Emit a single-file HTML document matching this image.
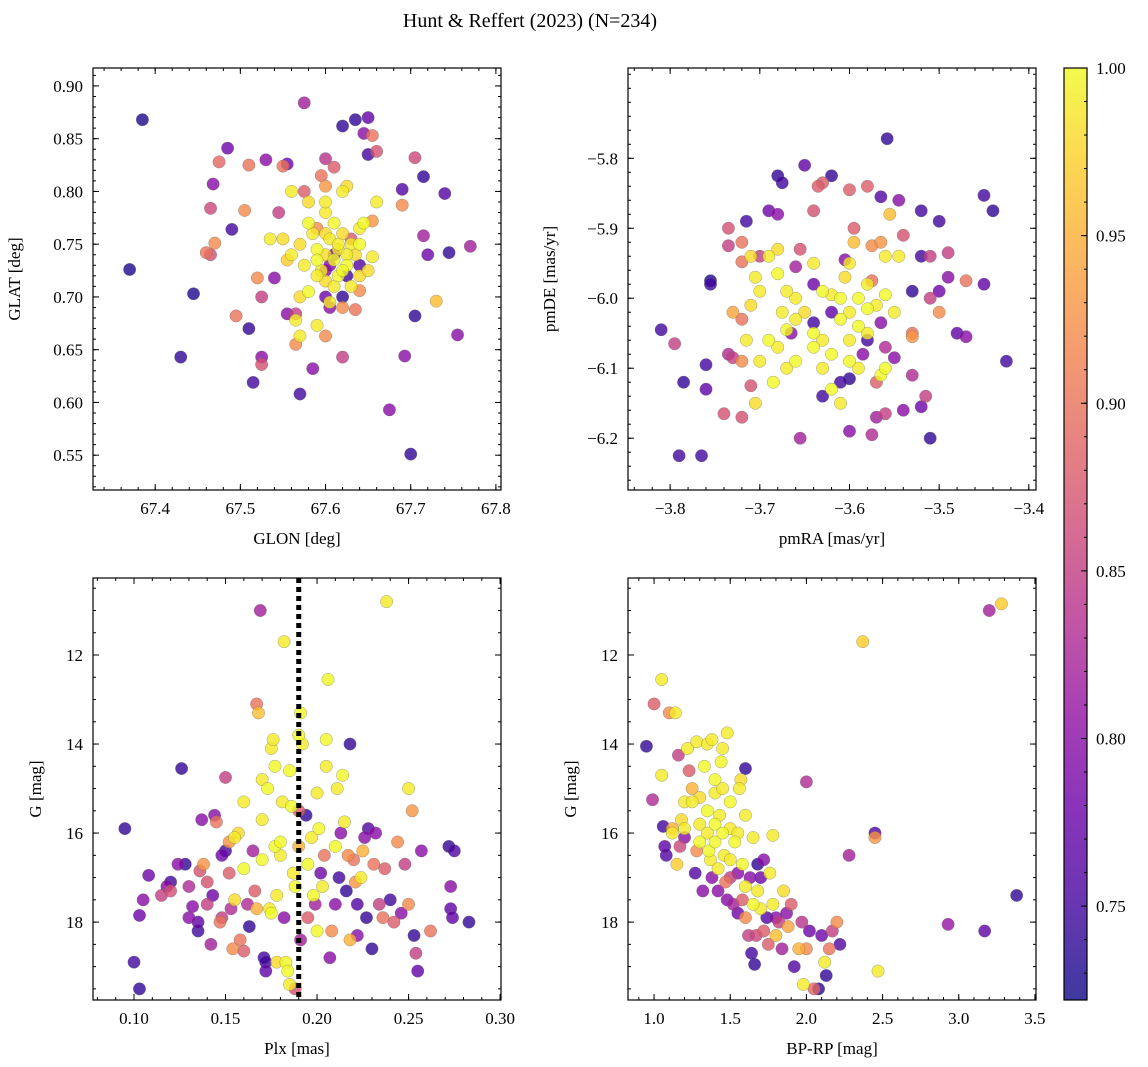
<!DOCTYPE html>
<html><head><meta charset="utf-8">
<style>
html,body{margin:0;padding:0;background:#fff;}
svg{display:block;font-family:"Liberation Serif","DejaVu Serif",serif;}
</style></head>
<body>
<svg id="fig" width="1148" height="1067" xmlns="http://www.w3.org/2000/svg">
<text x="530" y="27" font-size="20" text-anchor="middle">Hunt &amp; Reffert (2023) (N=234)</text>
</svg>
<script>
// ---------- data ----------
const glon=[67.385,67.37,67.445,67.43,67.485,67.468,67.49,67.51,67.515,67.525,67.53,67.555,67.575,67.57,67.585,67.6,67.62,67.635,67.65,67.645,67.65,67.69,67.715,67.74,67.705,67.675,67.7,67.72,67.745,67.755,67.77,67.715,67.705,67.66,67.655,67.693,67.69,67.73,67.465,67.475,67.47,67.46,67.465,67.495,67.505,67.51,67.525,67.52,67.525,67.55,67.54,67.545,67.555,67.565,67.565,67.57,67.59,67.6,67.62,67.605,67.635,67.64,67.6,67.6,67.59,67.62,67.595,67.61,67.63,67.655,67.575,67.61,67.625,67.6,67.64,67.62,67.605,67.535,67.55,67.56,67.555,67.56,67.58,67.58,67.585,67.57,67.575,67.59,67.595,67.6,67.605,67.61,67.615,67.62,67.625,67.63,67.635,67.64,67.645,67.62,67.625,67.6,67.61,67.59,67.6,67.615,67.63,67.64,67.655,67.605,67.58,67.57,67.565,67.62,67.615,67.6,67.59,67.61,67.625,67.64,67.65,67.66,67.6];
const glat=[0.868,0.726,0.703,0.643,0.841,0.807,0.764,0.670,0.619,0.643,0.830,0.826,0.884,0.608,0.632,0.831,0.862,0.868,0.870,0.855,0.835,0.802,0.814,0.798,0.682,0.593,0.551,0.740,0.742,0.664,0.748,0.758,0.832,0.838,0.853,0.644,0.787,0.696,0.784,0.828,0.751,0.742,0.740,0.682,0.782,0.825,0.700,0.718,0.636,0.824,0.718,0.780,0.684,0.684,0.655,0.663,0.673,0.663,0.643,0.690,0.688,0.706,0.700,0.805,0.765,0.690,0.815,0.823,0.755,0.772,0.800,0.740,0.720,0.725,0.730,0.700,0.730,0.755,0.755,0.740,0.735,0.800,0.790,0.770,0.760,0.750,0.730,0.745,0.725,0.740,0.755,0.735,0.745,0.760,0.730,0.750,0.740,0.765,0.770,0.800,0.805,0.780,0.770,0.720,0.715,0.720,0.710,0.720,0.738,0.695,0.705,0.700,0.678,0.725,0.750,0.760,0.735,0.710,0.740,0.750,0.725,0.790,0.790];
const prob1=[0.73,0.73,0.73,0.74,0.78,0.80,0.75,0.74,0.75,0.80,0.80,0.78,0.82,0.75,0.80,0.84,0.74,0.74,0.77,0.80,0.75,0.76,0.74,0.76,0.74,0.80,0.74,0.78,0.74,0.80,0.82,0.82,0.86,0.87,0.90,0.80,0.92,0.96,0.86,0.89,0.92,0.90,0.87,0.90,0.92,0.90,0.85,0.92,0.87,0.90,0.80,0.85,0.80,0.85,0.92,0.99,0.99,0.92,0.85,0.80,0.90,0.92,0.78,0.93,0.92,0.92,0.90,0.88,0.88,0.93,0.88,0.78,0.75,0.80,0.76,0.74,0.80,0.99,0.98,0.99,0.97,0.99,0.98,1.0,0.99,0.98,0.99,1.0,0.99,0.98,0.99,1.0,0.99,0.98,1.0,0.99,0.98,0.99,1.0,0.99,0.98,0.99,1.0,0.99,0.98,1.0,0.99,0.98,0.99,0.99,1.0,0.98,0.99,1.0,0.99,0.98,1.0,0.99,0.99,1.0,0.98,0.99,0.99];

const pmra=[-3.558,-3.65,-3.68,-3.675,-3.62,-3.565,-3.545,-3.52,-3.45,-3.44,-3.5,-3.715,-3.69,-3.68,-3.755,-3.755,-3.81,-3.795,-3.76,-3.785,-3.76,-3.79,-3.765,-3.74,-3.72,-3.655,-3.6,-3.575,-3.57,-3.56,-3.54,-3.51,-3.52,-3.515,-3.53,-3.55,-3.47,-3.48,-3.425,-3.45,-3.49,-3.5,-3.53,-3.52,-3.49,-3.51,-3.54,-3.47,-3.51,-3.53,-3.53,-3.5,-3.58,-3.6,-3.63,-3.635,-3.64,-3.7,-3.735,-3.72,-3.735,-3.72,-3.72,-3.73,-3.72,-3.71,-3.73,-3.735,-3.665,-3.64,-3.62,-3.61,-3.6,-3.63,-3.58,-3.56,-3.565,-3.57,-3.585,-3.605,-3.64,-3.66,-3.655,-3.595,-3.595,-3.575,-3.565,-3.555,-3.56,-3.575,-3.68,-3.69,-3.71,-3.705,-3.7,-3.71,-3.715,-3.69,-3.68,-3.7,-3.685,-3.705,-3.67,-3.66,-3.66,-3.65,-3.64,-3.63,-3.62,-3.63,-3.62,-3.61,-3.6,-3.59,-3.565,-3.56,-3.58,-3.59,-3.6,-3.61,-3.62,-3.63,-3.6,-3.605,-3.64,-3.68,-3.67,-3.66,-3.67,-3.59,-3.58,-3.55,-3.545,-3.58,-3.57,-3.56,-3.6,-3.64,-3.675,-3.61];
const pmde=[-5.772,-5.81,-5.825,-5.835,-5.825,-5.855,-5.86,-5.875,-5.853,-5.875,-5.89,-5.89,-5.875,-5.88,-5.98,-5.975,-6.045,-6.065,-6.095,-6.12,-6.13,-6.225,-6.225,-6.165,-6.17,-6.2,-6.19,-6.195,-6.17,-6.165,-6.16,-6.2,-6.155,-6.14,-6.11,-6.085,-6.055,-6.05,-6.09,-5.98,-5.97,-5.99,-5.99,-5.94,-5.935,-5.94,-5.91,-5.975,-6.0,-6.055,-6.05,-6.02,-5.84,-5.845,-5.835,-5.84,-5.875,-5.94,-5.925,-5.92,-5.9,-5.948,-6.03,-6.02,-6.09,-6.125,-6.085,-6.08,-6.05,-6.035,-6.02,-6.12,-6.115,-6.14,-6.06,-6.07,-6.035,-6.12,-6.08,-5.945,-5.98,-5.955,-5.93,-5.9,-5.92,-5.925,-5.92,-5.88,-5.94,-5.975,-5.93,-5.94,-5.94,-5.97,-5.99,-6.01,-6.06,-6.06,-6.07,-6.09,-6.12,-6.15,-6.1,-6.09,-6.0,-6.02,-6.05,-6.06,-6.08,-6.1,-6.13,-6.15,-6.09,-6.1,-6.11,-6.1,-6.05,-6.04,-6.02,-6.0,-5.995,-5.99,-5.95,-5.97,-5.95,-5.965,-5.99,-6.03,-6.045,-6.0,-6.015,-6.02,-5.94,-5.98,-6.01,-5.995,-6.06,-6.07,-6.02,-6.03];
const prob2=[0.74,0.77,0.74,0.75,0.74,0.76,0.80,0.75,0.75,0.74,0.75,0.75,0.78,0.80,0.75,0.73,0.75,0.85,0.75,0.74,0.77,0.75,0.75,0.87,0.87,0.82,0.80,0.83,0.82,0.85,0.80,0.74,0.78,0.85,0.83,0.80,0.80,0.77,0.75,0.77,0.80,0.78,0.74,0.75,0.85,0.85,0.87,0.90,0.85,0.93,0.90,0.92,0.88,0.88,0.88,0.88,0.87,0.85,0.85,0.90,0.87,0.90,0.90,0.94,0.92,0.87,0.85,0.83,0.80,0.75,0.77,0.75,0.74,0.75,0.75,0.83,0.80,0.88,0.80,0.80,0.78,0.82,0.87,0.88,0.96,0.92,0.93,0.96,0.99,0.90,0.98,0.99,0.98,0.99,0.99,0.98,0.99,1.0,0.99,0.99,1.0,0.98,0.99,1.0,0.99,0.98,1.0,0.99,1.0,0.99,1.0,0.99,1.0,0.99,1.0,1.0,0.99,1.0,0.99,1.0,0.99,1.0,0.99,0.98,0.99,1.0,0.99,0.99,1.0,1.0,1.0,0.99,0.99,0.99,0.99,1.0,0.99,1.0,0.99,1.0];

const plx=[0.095,0.1,0.103,0.103,0.105,0.108,0.115,0.118,0.12,0.12,0.124,0.126,0.128,0.13,0.13,0.132,0.135,0.135,0.136,0.137,0.138,0.14,0.14,0.142,0.143,0.144,0.145,0.147,0.148,0.148,0.15,0.15,0.152,0.152,0.153,0.154,0.155,0.155,0.157,0.158,0.16,0.16,0.16,0.162,0.163,0.165,0.166,0.167,0.167,0.168,0.169,0.17,0.17,0.17,0.171,0.172,0.172,0.173,0.174,0.175,0.175,0.176,0.177,0.177,0.178,0.178,0.18,0.18,0.181,0.182,0.182,0.183,0.184,0.185,0.185,0.186,0.187,0.188,0.188,0.19,0.19,0.19,0.191,0.191,0.192,0.194,0.195,0.195,0.197,0.198,0.199,0.2,0.2,0.201,0.202,0.203,0.204,0.205,0.205,0.206,0.207,0.208,0.21,0.21,0.211,0.212,0.213,0.214,0.215,0.216,0.217,0.218,0.218,0.22,0.221,0.222,0.222,0.224,0.225,0.226,0.227,0.228,0.23,0.231,0.232,0.234,0.236,0.237,0.238,0.24,0.242,0.244,0.246,0.248,0.25,0.25,0.252,0.253,0.254,0.255,0.257,0.262,0.272,0.273,0.274,0.275,0.273,0.283];
const gmag3=[15.9,18.9,19.5,17.85,17.5,16.95,17.4,17.2,17.3,17.1,16.7,14.55,16.7,17.2,17.9,17.65,18.0,18.2,16.85,15.7,16.7,17.1,17.6,18.5,17.4,15.6,15.75,18.0,17.9,16.5,14.75,16.4,16.2,16.9,17.7,18.6,17.5,16.1,16.0,18.4,18.65,15.3,16.8,17.6,18.1,16.4,17.3,17.7,13.1,13.3,11.0,14.8,15.7,16.6,18.8,18.9,19.1,15.0,17.7,17.8,14.1,13.9,14.5,16.3,17.4,18.9,16.5,16.2,15.3,11.7,17.9,18.9,19.1,19.4,14.6,15.4,16.9,17.2,19.5,13.8,15.5,16.3,18.4,13.3,14.0,15.6,17.9,16.7,16.1,17.4,17.6,18.2,15.1,15.9,16.9,17.2,16.5,14.5,13.9,12.55,18.8,18.2,17.6,16.3,15.0,17.0,16.0,14.7,15.75,17.3,16.5,14.0,18.4,16.6,17.1,18.3,17.6,17.0,16.4,16.1,17.9,15.9,18.6,16.7,16.0,17.6,17.9,16.8,10.8,17.5,18.0,16.2,17.8,16.7,15.0,17.6,15.5,18.3,18.7,19.1,16.4,18.2,16.3,17.7,17.9,16.4,17.2,18.0];
const prob3=[0.74,0.75,0.74,0.78,0.80,0.78,0.85,0.80,0.87,0.75,0.80,0.74,0.74,0.83,0.80,0.80,0.77,0.75,0.87,0.80,0.93,0.87,0.85,0.82,0.78,0.80,0.90,0.90,0.85,0.78,0.85,0.75,0.93,0.88,0.83,0.92,0.98,0.99,0.98,0.90,0.88,0.99,1.0,0.83,0.74,0.82,0.88,0.95,0.90,0.96,0.82,0.99,0.99,1.0,0.75,0.75,0.77,1.0,0.99,1.0,0.99,0.99,1.0,1.0,0.99,0.98,0.99,1.0,0.99,0.99,0.80,1.0,1.0,0.99,1.0,1.0,0.99,1.0,0.87,1.0,0.88,0.95,0.82,1.0,0.99,0.74,0.88,1.0,0.99,1.0,0.82,1.0,0.99,1.0,0.78,0.99,0.90,0.99,1.0,1.0,0.80,0.92,0.80,1.0,0.99,0.75,0.80,1.0,0.99,0.74,0.92,0.74,0.95,0.90,0.93,0.80,0.76,0.99,0.95,0.80,0.74,0.76,0.74,0.90,0.80,0.85,0.90,0.88,0.99,0.75,0.88,0.92,0.80,0.85,0.99,0.92,0.93,0.74,0.85,0.77,0.80,0.90,0.74,0.77,0.77,0.76,0.80,0.74];
const plxLine=0.19;

const bprp=[0.95,0.99,1.0,1.05,1.05,1.06,1.07,1.08,1.1,1.12,1.14,1.12,1.15,1.16,1.17,1.18,1.2,1.2,1.2,1.22,1.23,1.25,1.25,1.27,1.28,1.28,1.3,1.3,1.3,1.32,1.33,1.35,1.35,1.35,1.36,1.37,1.38,1.38,1.4,1.4,1.4,1.4,1.42,1.42,1.43,1.44,1.45,1.45,1.45,1.46,1.47,1.48,1.48,1.5,1.5,1.5,1.5,1.52,1.53,1.55,1.55,1.55,1.56,1.57,1.58,1.58,1.6,1.6,1.6,1.6,1.62,1.63,1.64,1.65,1.65,1.66,1.67,1.68,1.68,1.7,1.7,1.72,1.72,1.74,1.75,1.76,1.78,1.78,1.8,1.8,1.82,1.84,1.85,1.87,1.88,1.9,1.92,1.95,1.97,1.98,2.0,2.0,2.02,2.05,2.08,2.1,2.12,2.13,2.15,2.17,2.2,2.22,2.28,2.37,2.45,2.45,2.47,2.93,3.17,3.2,3.28,3.38];
const gmag4=[14.05,15.25,13.1,12.55,14.7,15.85,16.3,16.5,13.3,15.9,13.3,16.0,16.7,14.25,16.3,15.7,15.3,15.9,16.1,14.1,14.6,15.0,15.3,16.9,13.95,16.4,15.2,15.8,16.2,17.3,14.5,14.0,15.5,16.0,16.4,16.6,17.0,13.9,14.8,15.1,15.8,16.2,16.8,17.3,15.6,14.4,14.1,15.0,16.0,16.5,17.1,13.75,17.5,15.3,15.9,16.6,17.0,17.6,16.2,16.0,16.9,17.8,15.0,14.8,16.7,17.5,14.55,15.6,17.2,17.9,18.3,17.0,18.7,16.1,17.6,18.95,18.3,16.7,17.3,17.0,17.7,16.6,18.2,17.9,18.5,16.9,16.05,17.6,17.9,18.3,18.0,18.6,17.3,17.8,18.1,17.6,19.0,18.6,18.0,19.4,14.85,18.6,18.2,19.5,19.5,18.3,18.9,19.2,18.6,18.2,18.0,18.5,16.5,11.7,16.0,16.1,19.1,18.05,18.2,11.0,10.85,17.4];
const prob4=[0.74,0.83,0.88,0.99,0.99,0.75,0.77,0.76,0.92,0.95,0.99,0.99,0.97,0.85,0.86,0.98,0.99,0.99,0.80,0.99,0.88,0.95,0.99,0.76,0.99,0.92,0.98,0.99,1.0,0.80,1.0,0.99,1.0,0.99,1.0,0.99,0.80,0.99,1.0,0.99,1.0,1.0,0.99,0.80,0.99,1.0,0.99,0.99,1.0,0.99,0.90,0.99,0.80,1.0,0.99,0.99,0.85,0.82,1.0,0.99,0.80,0.78,0.99,0.98,1.0,0.88,0.74,0.99,0.99,0.92,0.85,0.80,0.75,0.99,1.0,0.74,0.86,0.74,0.99,0.78,0.99,0.80,0.88,0.76,0.88,0.99,0.99,0.99,0.80,0.96,0.85,0.82,0.98,0.80,0.94,0.88,0.76,0.95,0.84,0.99,0.83,0.92,0.78,0.89,0.74,0.78,0.99,0.74,0.90,0.85,0.92,0.76,0.82,0.97,0.76,0.93,0.99,0.81,0.77,0.82,0.97,0.74];

const cbTicks=[0.75,0.80,0.85,0.90,0.95,1.00];
const vmin=0.722, vmax=1.0;

// ---------- helpers ----------
const NS="http://www.w3.org/2000/svg";
const svg=document.getElementById('fig');
function mk(tag,attrs,parent){const e=document.createElementNS(NS,tag);for(const k in attrs)e.setAttribute(k,attrs[k]);(parent||svg).appendChild(e);return e;}
const plasma=[[13,8,135],[65,4,157],[106,0,168],[143,13,164],[177,42,144],[204,71,120],[225,100,98],[242,132,75],[252,166,54],[252,206,37],[240,249,33]];
function cmap(t){t=Math.max(0,Math.min(1,t))*10;const i=Math.min(9,Math.floor(t)),f=t-i;const a=plasma[i],b=plasma[i+1];return 'rgb('+a.map((v,k)=>Math.round(v+(b[k]-v)*f)).join(',')+')';}
function colorOf(p){return cmap((p-vmin)/(vmax-vmin));}
const FS=17;

function panel(name,box,xr,yr,xt,yt,xmin,ymin,xfmt,yfmt,xlabel,ylabel,xs,ys,ps,ylabX){
  const [L,T,R,B]=box;
  const g=mk('g',{});
  
  
  const sx=v=>L+(v-xr[0])/(xr[1]-xr[0])*(R-L);
  const sy=v=>T+(v-yr[0])/(yr[1]-yr[0])*(B-T);
  const clip=mk('clipPath',{id:'c'+name},g);mk('rect',{x:L,y:T,width:R-L,height:B-T},clip);
  const pts=mk('g',{'clip-path':'url(#c'+name+')'},g);
  
  
  const order=ps.map((p,i)=>i).sort((a,b)=>ps[a]-ps[b]);
  for(const i of order){
    const c=mk('circle',{cx:sx(xs[i]),cy:sy(ys[i]),r:6.2,fill:colorOf(ps[i]),'fill-opacity':0.8,stroke:'#666','stroke-opacity':0.6,'stroke-width':0.5},pts);
    
    
  }
  return {g,sx,sy,L,T,R,B,finish(){
    mk('rect',{x:L,y:T,width:R-L,height:B-T,fill:'none',stroke:'#000','stroke-width':1.2},g);
    const lo=Math.min(xr[0],xr[1]),hi=Math.max(xr[0],xr[1]);
    for(let v=Math.ceil(lo/xmin-1e-6)*xmin;v<=hi+1e-9;v+=xmin){const x=sx(v);mk('line',{x1:x,x2:x,y1:B,y2:B-3,stroke:'#000'},g);mk('line',{x1:x,x2:x,y1:T,y2:T+3,stroke:'#000'},g);}
    const ylo=Math.min(yr[0],yr[1]),yhi=Math.max(yr[0],yr[1]);
    for(let v=Math.ceil(ylo/ymin-1e-6)*ymin;v<=yhi+1e-9;v+=ymin){const y=sy(v);mk('line',{x1:L,x2:L+3,y1:y,y2:y,stroke:'#000'},g);mk('line',{x1:R,x2:R-3,y1:y,y2:y,stroke:'#000'},g);}
    for(const v of xt){const x=sx(v);mk('line',{x1:x,x2:x,y1:B,y2:B-6,stroke:'#000'},g);mk('line',{x1:x,x2:x,y1:T,y2:T+6,stroke:'#000'},g);
      const t=mk('text',{x:x,y:B+24,'font-size':FS,'text-anchor':'middle'},g);t.textContent=xfmt(v);
      }
    for(const v of yt){const y=sy(v);mk('line',{x1:L,x2:L+6,y1:y,y2:y,stroke:'#000'},g);mk('line',{x1:R,x2:R-6,y1:y,y2:y,stroke:'#000'},g);
      const t=mk('text',{x:L-10,y:y+6,'font-size':FS,'text-anchor':'end'},g);t.textContent=yfmt(v);
      }
    const xl=mk('text',{x:(L+R)/2,y:B+54,'font-size':FS,'text-anchor':'middle'},g);xl.textContent=xlabel;
    
    const yl=mk('text',{x:ylabX,y:(T+B)/2,'font-size':FS,'text-anchor':'middle',transform:'rotate(-90 '+ylabX+' '+((T+B)/2)+')'},g);yl.textContent=ylabel;
    
  }};
}
const f2=v=>v.toFixed(2), f1=v=>v.toFixed(1), fm=v=>(v<0?'\u2212':'')+Math.abs(v).toFixed(1), fi=v=>String(Math.round(v));
const range=(a,b,s)=>{const r=[];for(let v=a;v<=b+1e-9;v+=s)r.push(+v.toFixed(4));return r;};

const p1=panel('panel-glon-glat',[93,68,501,490],[67.327,67.806],[0.917,0.517],range(67.4,67.8,0.1),range(0.55,0.9,0.05),0.02,0.01,f1,f2,'GLON [deg]','GLAT [deg]',glon,glat,prob1,20);
p1.finish();
const p2=panel('panel-pm',[628,68,1036,490],[-3.847,-3.392],[-5.671,-6.274],range(-3.8,-3.4,0.1),[-5.8,-5.9,-6.0,-6.1,-6.2],0.02,0.02,fm,fm,'pmRA [mas/yr]','pmDE [mas/yr]',pmra,pmde,prob2,555);
p2.finish();
const p3=panel('panel-plx-g',[93,578,501,1000],[0.0776,0.3005],[10.27,19.75],range(0.1,0.3,0.05),[12,14,16,18],0.01,0.5,f2,fi,'Plx [mas]','G [mag]',plx,gmag3,prob3,41);
const dl=mk('line',{x1:p3.sx(plxLine),x2:p3.sx(plxLine),y1:p3.T,y2:p3.B,stroke:'#000','stroke-width':5,'stroke-dasharray':'5,4'},p3.g);


p3.finish();
const p4=panel('panel-cmd',[628,578,1036,1000],[0.829,3.507],[10.27,19.75],range(1.0,3.5,0.5),[12,14,16,18],0.1,0.5,f1,fi,'BP-RP [mag]','G [mag]',bprp,gmag4,prob4,576);
p4.finish();

// ---------- colorbar ----------
const cb=mk('g',{});


const CL=1064,CR=1087,CT=68,CB=1000;
const cy=v=>CB-(v-vmin)/(vmax-vmin)*(CB-CT);
const grad=mk('linearGradient',{id:'cbg',x1:0,y1:1,x2:0,y2:0},cb);
for(let i=0;i<=10;i++)mk('stop',{offset:i/10,'stop-color':cmap(i/10),'stop-opacity':0.8},grad);
mk('rect',{x:CL,y:CT,width:CR-CL,height:CB-CT,fill:'url(#cbg)'},cb);
mk('rect',{x:CL,y:CT,width:CR-CL,height:CB-CT,fill:'none',stroke:'#000','stroke-width':1.2},cb);
for(let v=0.73;v<=1.0001;v+=0.01){const y=cy(v);mk('line',{x1:CR,x2:CR-3,y1:y,y2:y,stroke:'#000'},cb);}
for(const v of cbTicks){const y=cy(v);mk('line',{x1:CR,x2:CR-6,y1:y,y2:y,stroke:'#000'},cb);
  const t=mk('text',{x:CR+9,y:y+6,'font-size':FS},cb);t.textContent=v.toFixed(2);
  }
</script>
</body></html>
